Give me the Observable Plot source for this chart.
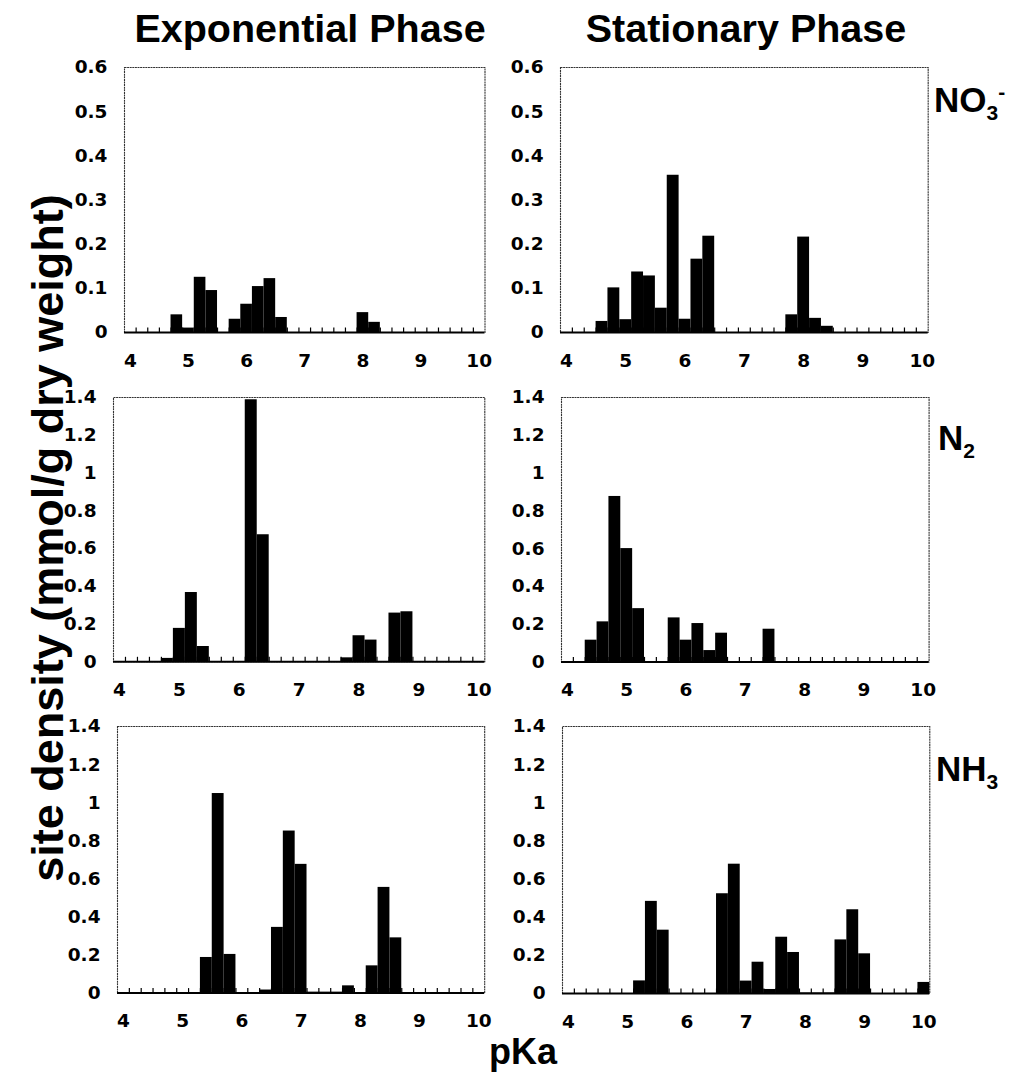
<!DOCTYPE html>
<html><head><meta charset="utf-8">
<script src="https://cdn.jsdelivr.net/npm/d3@7"></script>
<script src="https://cdn.jsdelivr.net/npm/@observablehq/plot@0.6"></script>
<style>
body{margin:0;background:#fff;}
#wrap{position:relative;width:1021px;height:1080px;overflow:hidden;background:#fff;font-family:"Liberation Sans",Arial,sans-serif;}
.t{position:absolute;font-weight:bold;color:#000;white-space:nowrap;line-height:1;}
.panel{position:absolute;}
.t sub,.t sup{font-size:0.6em;line-height:0;}
</style></head><body><div id="wrap"></div>
<script>
// pKa categories (one bar per 0.2 pKa unit)
const pKa = [4.0,4.2,4.4,4.6,4.8,5.0,5.2,5.4,5.6,5.8,6.0,6.2,6.4,6.6,6.8,7.0,7.2,7.4,7.6,7.8,8.0,8.2,8.4,8.6,8.8,9.0,9.2,9.4,9.6,9.8,10.0];
const xTickValues = [4,5,6,7,8,9,10];
const yTicksNO3 = [0,0.1,0.2,0.3,0.4,0.5,0.6];
const yTicksN = [0,0.2,0.4,0.6,0.8,1.0,1.2,1.4];

// site density (mmol/g dry weight)
const expNO3  = [0,0,0,0,0.04,0.01,0.125,0.095,0,0.03,0.064,0.104,0.122,0.034,0,0,0,0,0,0,0.045,0.023,0,0,0,0,0,0,0,0,0];
const statNO3 = [0,0,0,0.025,0.101,0.029,0.137,0.128,0.055,0.356,0.03,0.166,0.218,0,0,0,0,0,0,0.04,0.216,0.032,0.014,0,0,0,0,0,0,0,0];
const expN2   = [0,0,0,0,0.018,0.177,0.367,0.081,0,0,0,1.388,0.673,0,0,0,0,0,0,0.021,0.138,0.115,0,0.258,0.265,0,0,0,0,0,0];
const statN2  = [0,0,0.115,0.212,0.876,0.600,0.282,0,0,0.233,0.115,0.203,0.06,0.152,0,0,0,0.173,0,0,0,0,0,0,0,0,0,0,0,0,0];
const expNH3  = [0,0,0,0,0,0,0,0.187,1.048,0.203,0,0,0.016,0.345,0.851,0.676,0.005,0.005,0.005,0.038,0,0.143,0.555,0.29,0,0,0,0,0,0,0];
const statNH3 = [0,0,0,0,0,0,0.066,0.483,0.332,0,0,0,0,0.523,0.678,0.065,0.164,0.021,0.295,0.215,0.003,0.003,0.003,0.281,0.439,0.208,0,0,0,0,0.058];

const step = pKa[1] - pKa[0];
const bounds = pKa.slice(1).map((p, i) => (p + pKa[i]) / 2);

const panels = [
  {values: expNO3,  ymax: 0.6, yticks: yTicksNO3, l: 123.5, r: 484,   t: 66.7,  b: 331.7},
  {values: statNO3, ymax: 0.6, yticks: yTicksNO3, l: 560,   r: 927.7, t: 66.7,  b: 331.7},
  {values: expN2,   ymax: 1.4, yticks: yTicksN,   l: 112.7, r: 484,   t: 396.7, b: 661},
  {values: statN2,  ymax: 1.4, yticks: yTicksN,   l: 560.7, r: 928.3, t: 397.3, b: 661.7},
  {values: expNH3,  ymax: 1.4, yticks: yTicksN,   l: 117.3, r: 484.5, t: 725.7, b: 992.3},
  {values: statNH3, ymax: 1.4, yticks: yTicksN,   l: 561.7, r: 929,   t: 725.7, b: 992.7}
];

const wrap = document.getElementById("wrap");
const ML = 62, MR = 14, MT = 12, MB = 42;
const tickFont = {fontFamily: "DejaVu Sans, Verdana, sans-serif", fontWeight: "bold", fontSize: 18.5, fill: "#000"};

panels.forEach((P, idx) => {
  const fw = P.r - P.l, fh = P.b - P.t;
  const data = pKa.map((p, i) => ({p, v: P.values[i]}));
  const svg = Plot.plot({
    width: ML + fw + MR, height: MT + fh + MB,
    marginLeft: ML, marginRight: MR, marginTop: MT, marginBottom: MB,
    x: {domain: [pKa[0] - step / 2, pKa[pKa.length - 1] + step / 2], label: null},
    y: {domain: [0, P.ymax], label: null},
    style: {background: "transparent", fontFamily: "DejaVu Sans, Verdana, sans-serif", fontWeight: "bold", fontSize: "18.5px"},
    marks: [
      Plot.frame({stroke: "#333", strokeWidth: 1.1, strokeDasharray: "2,0.6"}),
      Plot.ruleX(bounds, {x: d => d, y1: 0, y2: P.ymax * 4.5 / fh, stroke: "#000", strokeWidth: 1.2}),
      Plot.rectY(data, {x1: d => d.p - step / 2, x2: d => d.p + step / 2, y: "v", fill: "#000"}),
      Plot.ruleY([0], {stroke: "#000", strokeWidth: 2}),
      Plot.axisX({ticks: xTickValues, tickSize: 0, tickPadding: 21, tickFormat: d => String(d), label: null, ...tickFont}),
      Plot.axisY({ticks: P.yticks, tickSize: 0, tickPadding: 17, tickFormat: d => String(+d.toFixed(1)), label: null, ...tickFont})
    ]
  });
  svg.classList.add("panel");
  svg.style.left = (P.l - ML) + "px";
  svg.style.top = (P.t - MT) + "px";
  wrap.appendChild(svg);
});

function addText(html, css) {
  const d = document.createElement("div");
  d.className = "t";
  d.innerHTML = html;
  Object.assign(d.style, css);
  wrap.appendChild(d);
  return d;
}
addText("Exponential Phase", {left: "310px", top: "9px", fontSize: "39.5px", transform: "translateX(-50%)"});
addText("Stationary Phase", {left: "746px", top: "9px", fontSize: "39.5px", transform: "translateX(-50%)"});
addText("site density (mmol/g dry weight)", {left: "47px", top: "538px", fontSize: "45px", transform: "translate(-50%,-50%) rotate(-90deg)"});
addText("pKa", {left: "523px", top: "1034px", fontSize: "36px", transform: "translateX(-50%)"});
addText("NO<sub>3</sub><sup>-</sup>", {left: "934px", top: "82px", fontSize: "35px"});
addText("N<sub>2</sub>", {left: "938px", top: "420px", fontSize: "35px"});
addText("NH<sub>3</sub>", {left: "936px", top: "751px", fontSize: "35px"});
</script>
</body></html>
